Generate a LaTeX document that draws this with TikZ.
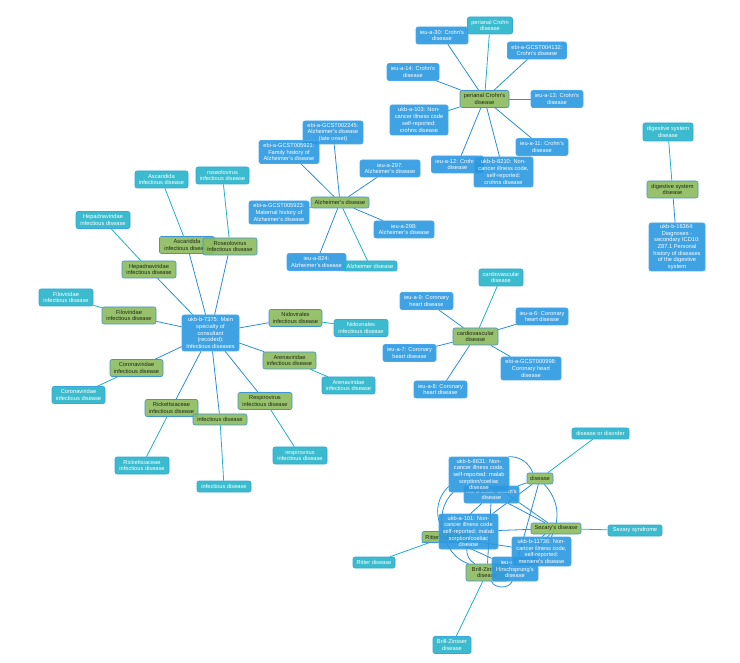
\documentclass[tikz,border=0pt]{standalone}
\usepackage{fontspec}
\setmainfont{Liberation Sans}
\pgfdeclarelayer{bg}
\pgfsetlayers{bg,main}
\definecolor{bfill}{HTML}{2B98E0}
\definecolor{bdraw}{HTML}{4AA8EC}
\definecolor{cfill}{HTML}{26B4C8}
\definecolor{cdraw}{HTML}{3AA6DE}
\definecolor{gfill}{HTML}{8DBB5E}
\definecolor{gdraw}{HTML}{3D95D6}
\definecolor{gtext}{HTML}{1E2A14}
\definecolor{bedge}{HTML}{2A8FD8}
\definecolor{cedge}{HTML}{1FB2C5}
\tikzset{
 nd/.style={rounded corners=2pt, align=center, inner sep=0pt, font=\fontsize{5.7}{6.7}\selectfont, line width=0.6pt, fill opacity=0.9, text opacity=1},
 bn/.style={nd, fill=bfill, draw=bdraw, text=white},
 cn/.style={nd, fill=cfill, draw=cdraw, text=white},
 gn/.style={nd, fill=gfill, draw=gdraw, text=gtext},
 sz/.style 2 args={minimum width=#1pt, minimum height=#2pt},
 be/.style={draw=bedge, line width=0.8pt},
 ce/.style={draw=cedge, line width=0.8pt},
}
\begin{document}
\begin{tikzpicture}[x=1pt,y=-1pt]
\useasboundingbox (0,0) rectangle (740,663);
% ---------- Crohn cluster
\node[cn,sz={45}{17}] (pcdc) at (490,25.5) {perianal Crohn\\disease};
\node[bn,sz={52}{17}] (c30) at (442,35.5) {ieu-a-30: Crohn's\\disease};
\node[bn,sz={59}{17}] (c4132) at (537,50.5) {ebi-a-GCST004132:\\Crohn's disease};
\node[bn,sz={52}{17}] (c14) at (413,72) {ieu-a-14: Crohn's\\disease};
\node[gn,sz={49}{17}] (pcdg) at (484.5,99) {perianal Crohn's\\disease};
\node[bn,sz={52}{17}] (c13) at (557,99) {ieu-a-13: Crohn's\\disease};
\node[bn,sz={58}{30}] (c103) at (419,120) {ukb-a-103: Non-\\cancer illness code\\self-reported:\\crohns disease};
\node[bn,sz={52}{17}] (c11) at (542,147) {ieu-a-11: Crohn's\\disease};
\node[bn,sz={52}{17}] (c12) at (457.5,164.5) {ieu-a-12: Crohn's\\disease};
\node[bn,sz={59}{30}] (c8210) at (503.5,172) {ukb-b-8210: Non-\\cancer illness code,\\self-reported:\\crohns disease};
% ---------- Alzheimer cluster
\node[bn,sz={60}{23}] (a2245) at (333,132.5) {ebi-a-GCST002245:\\Alzheimer's disease\\(late onset)};
\node[bn,sz={60}{23}] (a5921) at (289,152) {ebi-a-GCST005921:\\Family history of\\Alzheimer's disease};
\node[bn,sz={60}{17}] (a297) at (390,168.5) {ieu-a-297:\\Alzheimer's disease};
\node[gn,sz={58}{11}] (adg) at (340,202.5) {Alzheimer's disease};
\node[bn,sz={60}{23}] (a5923) at (279,212.5) {ebi-a-GCST005923:\\Maternal history of\\Alzheimer's disease};
\node[bn,sz={60}{17}] (a298) at (404,229.5) {ieu-a-298:\\Alzheimer's disease};
\node[bn,sz={59}{17}] (a824) at (316.5,262) {ieu-a-824:\\Alzheimer's disease};
\node[cn,sz={54}{10}] (adc) at (370,266) {Alzheimer disease};
% ---------- Infectious cluster
\node[cn,sz={53}{17}] (ascc) at (161.5,179.5) {Ascaridida\\infectious disease};
\node[cn,sz={53}{17}] (rosc) at (222.5,175.5) {roseolovirus\\infectious disease};
\node[cn,sz={54}{17}] (hepc) at (103,220) {Hepadnaviridae\\infectious disease};
\node[gn,sz={55}{17}] (ascg) at (187,245) {Ascaridida\\infectious disease};
\node[gn,sz={54}{17}] (rosg) at (230,246.5) {Roseolovirus\\infectious disease};
\node[gn,sz={54}{17}] (hepg) at (149,269.5) {Hepadnaviridae\\infectious disease};
\node[cn,sz={54}{17}] (filc) at (66,297.5) {Filoviridae\\infectious disease};
\node[gn,sz={54}{17}] (filg) at (129,315.5) {Filoviridae\\infectious disease};
\node[bn,sz={57}{36}] (inf) at (210.5,333) {ukb-b-7375: Main\\specialty of\\consultant\\(recoded):\\Infectious diseases};
\node[gn,sz={53}{17}] (nidg) at (295.5,318) {Nidovirales\\infectious disease};
\node[cn,sz={54}{17}] (nidc) at (361,328) {Nidovirales\\infectious disease};
\node[gn,sz={53}{17}] (corg) at (136.5,368) {Coronaviridae\\infectious disease};
\node[cn,sz={53}{17}] (corc) at (78.5,395) {Coronaviridae\\infectious disease};
\node[gn,sz={53}{17}] (areg) at (289.5,360.5) {Arenaviridae\\infectious disease};
\node[cn,sz={53}{17}] (arec) at (348.5,385.5) {Arenaviridae\\infectious disease};
\node[gn,sz={54}{17}] (resg) at (265,401) {Respirovirus\\infectious disease};
\node[cn,sz={54}{17}] (resc) at (300,455.5) {respirovirus\\infectious disease};
\node[gn,sz={53}{17}] (ricg) at (171.5,408) {Rickettsiaceae\\infectious disease};
\node[gn,sz={54}{11}] (idg) at (220,419.5) {infectious disease};
\node[cn,sz={54}{17}] (ricc) at (142,465.5) {Rickettsiaceae\\infectious disease};
\node[cn,sz={54}{11}] (idc) at (224,486.5) {infectious disease};
% ---------- Cardiovascular cluster
\node[cn,sz={44}{17}] (cvc) at (501,277.5) {cardiovascular\\disease};
\node[bn,sz={53}{17}] (h9) at (426.5,301) {ieu-a-9: Coronary\\heart disease};
\node[bn,sz={52}{17}] (h6) at (542,316.5) {ieu-a-6: Coronary\\heart disease};
\node[gn,sz={45}{17}] (cvg) at (475.5,336.5) {cardiovascular\\disease};
\node[bn,sz={53}{17}] (h7) at (409.5,353) {ieu-a-7: Coronary\\heart disease};
\node[bn,sz={60}{23}] (h998) at (531,368.5) {ebi-a-GCST000998:\\Coronary heart\\disease};
\node[bn,sz={53}{17}] (h8) at (440.5,389.5) {ieu-a-8: Coronary\\heart disease};
% ---------- Digestive
\node[cn,sz={50}{18}] (dgc) at (668,132) {digestive system\\disease};
\node[gn,sz={51}{17}] (dgg) at (672.5,189.5) {digestive system\\disease};
\node[bn,sz={56}{48}] (dgb) at (677,247) {ukb-b-16364:\\Diagnoses -\\secondary ICD10:\\Z87.1 Personal\\history of diseases\\of the digestive\\system};
% ---------- Bottom cluster
\node[cn,sz={57}{11}] (dod) at (600.5,433.5) {disease or disorder};
\node[gn,sz={26}{11}] (dis) at (540,478.5) {disease};
\node[bn,sz={55}{17}] (hid) at (491.5,494.5) {ieu-a-1085: Crohn's\\disease};
\node[bn,sz={60}{35}] (u8631) at (479,474.5) {ukb-b-8631: Non-\\cancer illness code,\\self-reported: malab\\sorption/coeliac\\disease};
\node[gn,sz={50}{11}] (sez) at (556,528.5) {Sezary's disease};
\node[cn,sz={54}{11}] (ssy) at (635,530.5) {Sezary syndrome};
\node[gn,sz={46}{11}] (rit) at (445,537) {Ritter's disease};
\node[bn,sz={59}{35}] (u101) at (468.5,531.5) {ukb-a-101: Non-\\cancer illness code\\self-reported: malab\\sorption/coeliac\\disease};
\node[cn,sz={42}{11}] (rdc) at (374,562.5) {Ritter disease};
\node[gn,sz={42}{17}] (bz) at (487,572.5) {Brill-Zinsser\\disease};
\node[bn,sz={46}{24}] (hir) at (515,569) {ieu-a-1105:\\Hirschsprung's\\disease};
\node[bn,sz={59}{29}] (u11736) at (541.5,551.5) {ukb-b-11736: Non-\\cancer illness code,\\self-reported:\\meniere's disease};
\node[cn,sz={38}{17}] (bzc) at (452,645) {Brill-Zinsser\\disease};
% ---------- edges
\begin{pgfonlayer}{bg}
\fill[white] (0,0) rectangle (740,663);
\foreach \t in {c30,c4132,c14,c13,c103,c11,c12,c8210} \draw[be] (pcdg) -- (\t);
\draw[ce] (pcdg) -- (pcdc);
\foreach \t in {a2245,a5921,a297,a5923,a298,a824} \draw[be] (adg) -- (\t);
\draw[ce] (adg) -- (adc);
\foreach \t in {ascg,rosg,hepg,filg,nidg,corg,areg,resg,ricg,idg} \draw[be] (inf) -- (\t);
\draw[ce] (ascg) -- (ascc);
\draw[ce] (rosg) -- (rosc);
\draw[ce] (hepg) -- (hepc);
\draw[ce] (filg) -- (filc);
\draw[ce] (nidg) -- (nidc);
\draw[ce] (corg) -- (corc);
\draw[ce] (areg) -- (arec);
\draw[ce] (resg) -- (resc);
\draw[ce] (ricg) -- (ricc);
\draw[ce] (idg) -- (idc);
\foreach \t in {h9,h6,h7,h998,h8} \draw[be] (cvg) -- (\t);
\draw[ce] (cvg) -- (cvc);
\draw[be] (dgg) -- (dgb);
\draw[ce] (dgg) -- (dgc);
% bottom cluster
\draw[ce] (dis) -- (dod);
\draw[ce] (sez) -- (ssy);
\draw[ce] (rit) -- (rdc);
\draw[ce] (bz) -- (bzc);
\draw[be] (dis) to[bend right=35] (u8631);
\draw[be] (dis) -- (hid);
\draw[be] (dis) -- (u101);
\draw[be] (dis) to[bend left=35] (u11736);
\draw[be] (dis) -- (hir);
\draw[be] (sez) -- (u8631);
\draw[be] (sez) -- (hid);
\draw[be] (sez) -- (u101);
\draw[be] (sez) to[bend right=30] (u11736);
\draw[be] (sez) -- (hir);
\draw[be] (rit) to[bend left=40] (u8631);
\draw[be] (rit) -- (hid);
\draw[be] (rit) -- (u101);
\draw[be] (rit) -- (u11736);
\draw[be] (rit) -- (hir);
\draw[be] (bz) to[bend left=60] (u8631);
\draw[be] (bz) -- (hid);
\draw[be] (bz) to[bend left=30] (u101);
\draw[be] (bz) -- (u11736);
\draw[be] (bz) to[bend right=70] (hir);
\end{pgfonlayer}
\end{tikzpicture}
\end{document}
